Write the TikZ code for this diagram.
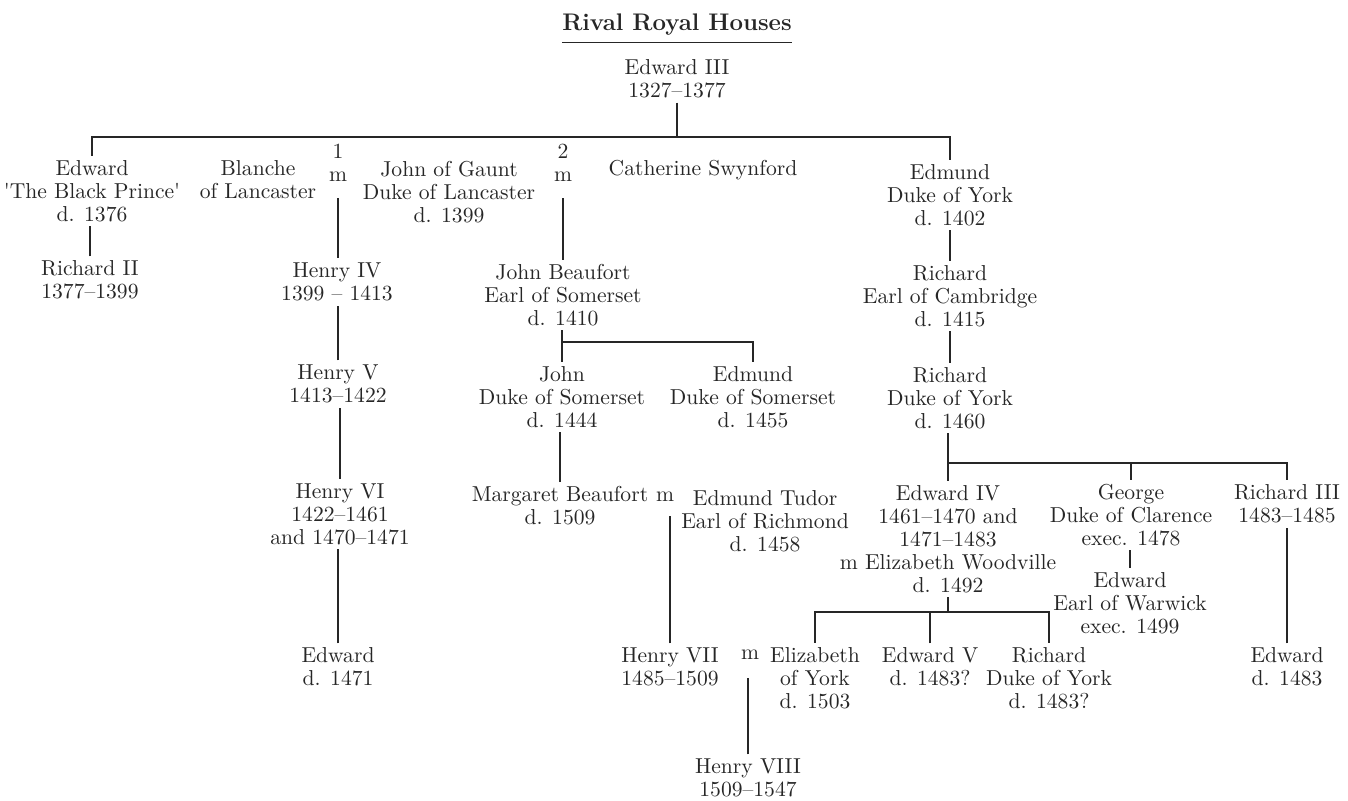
\documentclass[tikz,border=0pt]{standalone}
\usepackage{fontspec}
\usetikzlibrary{positioning}

\begin{document}
\begin{tikzpicture}[x=0.5pt,y=-0.5pt]
\tikzstyle{person}=[align=center, inner sep=2pt, text=black!85, font=\fontsize{10.8}{11.5}\selectfont]
\tikzstyle{marr}=[person]
\tikzstyle{connect}=[draw=black!85, line width=0.55pt]
\useasboundingbox (0,0) rectangle (1348,801);

  \node[person, inner xsep=0pt, inner ysep=3pt, font=\bfseries\fontsize{12}{14}\selectfont] (title) at (677,25) {Rival Royal Houses};
  \draw[connect] (title.south west) -- (title.south east);

  % Edward III and his sons
  \node[person] (e3) at (677,79) {Edward III\\1327--1377};
  \node[person] (bp) at (92,191) {Edward\\\textquotesingle The Black Prince\textquotesingle\\d. 1376};
  \node[person] (r2) at (90,280) {Richard II\\1377--1399};
  \node[person] (blanche) at (258,180) {Blanche\\of Lancaster};
  \node[marr] (m1) at (338,163) {1\\m};
  \node[person] (gaunt) at (449,192) {John of Gaunt\\Duke of Lancaster\\d. 1399};
  \node[marr] (m2) at (563,163) {2\\m};
  \node[person] (cath) at (703,170) {Catherine Swynford};
  \node[person] (edy) at (950,195) {Edmund\\Duke of York\\d. 1402};

  % Lancaster
  \node[person] (h4) at (337,282) {Henry IV\\1399 -- 1413};
  \node[person] (h5) at (338,384) {Henry V\\1413--1422};
  \node[person] (h6) at (340,514) {Henry VI\\1422--1461\\and 1470--1471};
  \node[person] (ed1471) at (338,667) {Edward\\d. 1471};

  % Beaufort and Tudor
  \node[person] (jb) at (563,295) {John Beaufort\\Earl of Somerset\\d. 1410};
  \node[person] (jds) at (562,397) {John\\Duke of Somerset\\d. 1444};
  \node[person] (eds) at (753,397) {Edmund\\Duke of Somerset\\d. 1455};
  \node[person] (mb) at (560,506) {Margaret Beaufort\\d. 1509};
  \node[marr] (mt) at (665,497) {m};
  \node[person] (tudor) at (765,521) {Edmund Tudor\\Earl of Richmond\\d. 1458};
  \node[person] (h7) at (670,667) {Henry VII\\1485--1509};
  \node[marr] (m3) at (750,655) {m};
  \node[person] (h8) at (748,778) {Henry VIII\\1509--1547};

  % York
  \node[person] (rc) at (950,296) {Richard\\Earl of Cambridge\\d. 1415};
  \node[person] (rdy) at (950,398) {Richard\\Duke of York\\d. 1460};
  \node[person] (e4) at (948,539) {Edward IV\\1461--1470 and\\1471--1483\\m Elizabeth Woodville\\d. 1492};
  \node[person] (george) at (1131,515) {George\\Duke of Clarence\\exec. 1478};
  \node[person] (r3) at (1287,504) {Richard III\\1483--1485};
  \node[person] (warwick) at (1130,603) {Edward\\Earl of Warwick\\exec. 1499};
  \node[person] (ed1483) at (1287,667) {Edward\\d. 1483};
  \node[person] (eliz) at (815,678) {Elizabeth\\of York\\d. 1503};
  \node[person] (e5) at (930,667) {Edward V\\d. 1483?};
  \node[person] (rdy2) at (1049,678) {Richard\\Duke of York\\d. 1483?};

  \coordinate (top) at (676,137);
  \coordinate (bfork) at (562,342);
  \coordinate (yfork) at (948,463);
  \coordinate (kfork) at (947,612);

  \draw[connect] (e3.south) -- (e3.south |- top);
  \draw[connect] (bp.north) |- (top) -| (edy.north);
  \draw[connect] (r2.north) -- (r2.north |- bp.south);
  \draw[connect, shorten <=6pt] (m1.south) -- (m1.south |- h4.north);
  \draw[connect] (h5.north) -- (h5.north |- h4.south);
  \draw[connect] (h6.north) -- (h6.north |- h5.south);
  \draw[connect] (ed1471.north) -- (ed1471.north |- h6.south);
  \draw[connect, shorten <=6pt] (m2.south) -- (m2.south |- jb.north);
  \draw[connect] (jds.north |- jb.south) -- (jds.north);
  \draw[connect] (bfork) -| (eds.north);
  \draw[connect] (mb.north) -- (mb.north |- jds.south);
  \draw[connect, shorten >=5pt] (h7.north) -- (h7.north |- mt.south);
  \draw[connect] (rc.north) -- (rc.north |- edy.south);
  \draw[connect] (rdy.north) -- (rdy.north |- rc.south);
  \draw[connect] (e4.north) -- (e4.north |- rdy.south);
  \draw[connect] (yfork) -| (r3.north);
  \draw[connect] (george.north) -- (george.north |- yfork);
  \draw[connect] (warwick.north) -- (warwick.north |- george.south);
  \draw[connect] (ed1483.north) -- (ed1483.north |- r3.south);
  \draw[connect] (e4.south) -- (e4.south |- kfork);
  \draw[connect] (eliz.north) |- (kfork) -| (rdy2.north);
  \draw[connect] (e5.north) -- (e5.north |- kfork);
  \draw[connect, shorten >=7pt] (h8.north) -- (h8.north |- m3.south);
\end{tikzpicture}
\end{document}
